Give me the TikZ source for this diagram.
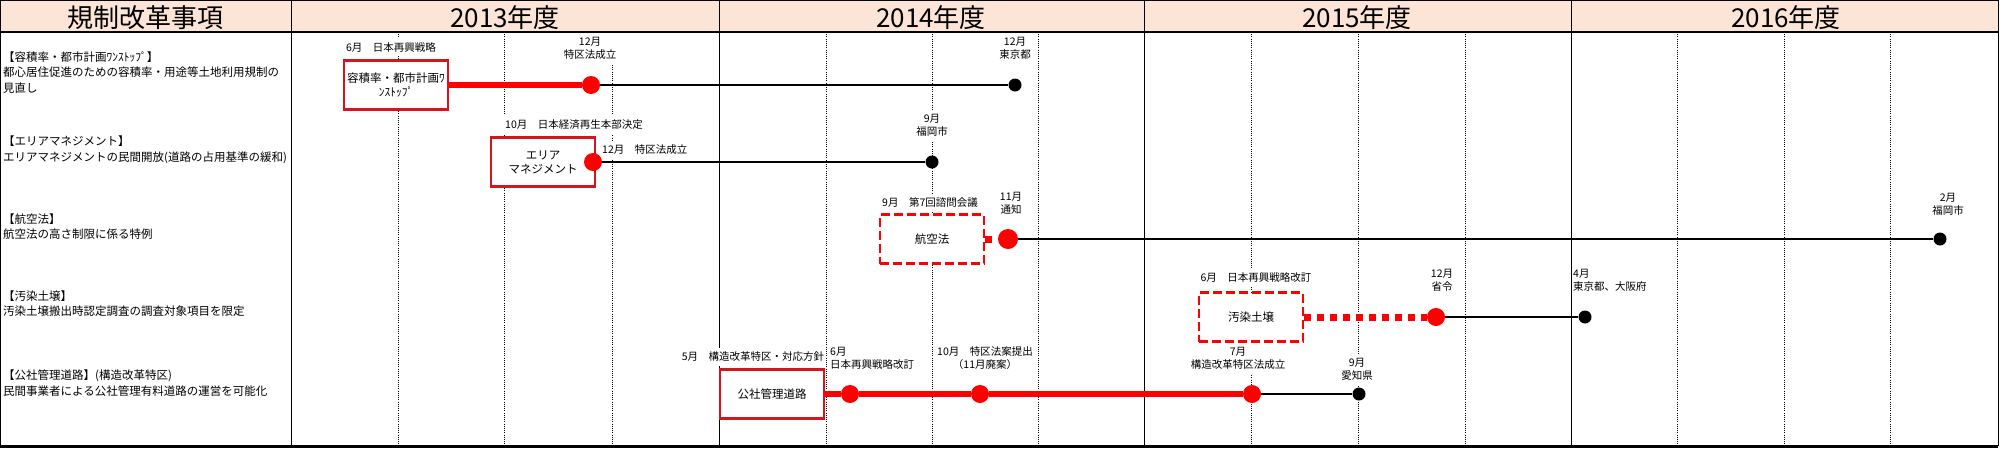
\documentclass[tikz,border=0pt]{standalone}
\usepackage{fontspec}
\setmainfont{Noto Sans CJK JP}
\definecolor{hdrfill}{RGB}{252,228,214}
\definecolor{boxred}{RGB}{214,20,28}
\definecolor{dotred}{RGB}{255,0,0}
\begin{document}
\begin{tikzpicture}[x=1pt,y=-1pt,
  hdr/.style={inner sep=0pt,font=\fontsize{26}{28}\selectfont},
  item/.style={anchor=west,align=left,inner sep=0pt,font=\fontsize{11.5}{15.5}\selectfont},
  lbl/.style={fill=white,inner xsep=1pt,inner ysep=4pt,align=center,font=\fontsize{10.5}{13}\selectfont},
  solidbox/.style={draw=boxred,line width=2.5pt,fill=white,minimum width=104,minimum height=49,inner sep=0pt,align=center,font=\fontsize{11.5}{14}\selectfont},
  dashbox/.style={solidbox,draw=dotred,dash pattern=on 9pt off 4pt},
  reddot/.style={circle,fill=dotred,inner sep=0pt,minimum size=18},
  blackdot/.style={circle,fill=black,inner sep=0pt,minimum size=13},
  redline/.style={dotred,line width=6.5pt},
  reddash/.style={dotred,line width=7pt,dash pattern=on 7pt off 6pt},
  blackline/.style={black,line width=2pt},
  gridq/.style={line width=0.8pt,dash pattern=on 1pt off 1.2pt},
  gridy/.style={line width=1pt}]
  \useasboundingbox (0,0) rectangle (2012,448);
  \fill[hdrfill] (0,0) rectangle (1998,32);
  \node[hdr] (hitem) at (145,18) {規制改革事項};
  \node[hdr] (h2013) at (505,18) {2013年度};
  \node[hdr] (h2014) at (931,18) {2014年度};
  \node[hdr] (h2015) at (1357,18) {2015年度};
  \node[hdr] (h2016) at (1786,18) {2016年度};
  \draw[gridq] (398,32)--(398,446) (504,32)--(504,446) (612,32)--(612,446)
    (826,32)--(826,446) (932,32)--(932,446) (1038,32)--(1038,446)
    (1251,32)--(1251,446) (1358,32)--(1358,446) (1465,32)--(1465,446)
    (1677,32)--(1677,446) (1784,32)--(1784,446) (1890,32)--(1890,446);
  \draw[gridy] (0.5,0)--(0.5,446) (291,0)--(291,446) (719,0)--(719,446) (1144,0)--(1144,446)
    (1571,0)--(1571,446) (1998,0)--(1998,446);
  \draw[line width=1pt] (0,0.5)--(1998,0.5);
  \draw[line width=2.5pt] (0,32)--(1998,32);
  \draw[line width=3pt] (0,446)--(1998,446);
  \node[item] (item1) at (3,72.5) {【容積率・都市計画ﾜﾝｽﾄｯﾌﾟ】\\都心居住促進のための容積率・用途等土地利用規制の\\見直し};
  \node[item] (item2) at (3,150) {【エリアマネジメント】\\エリアマネジメントの民間開放(道路の占用基準の緩和)};
  \node[item] (item3) at (3,226.5) {【航空法】\\航空法の高さ制限に係る特例};
  \node[item] (item4) at (3,303.5) {【汚染土壌】\\汚染土壌搬出時認定調査の調査対象項目を限定};
  \node[item] (item5) at (3,383) {【公社管理道路】(構造改革特区)\\民間事業者による公社管理有料道路の運営を可能化};
  \node[lbl] (m1a) at (391,47) {6月　日本再興戦略};
  \node[lbl] (m1b) at (590,48.5) {12月\\特区法成立};
  \node[lbl] (m1c) at (1015,48.5) {12月\\東京都};
  \node[solidbox] (box1) at (396,85) {容積率・都市計画ﾜ\\ﾝｽﾄｯﾌﾟ};
  \node[reddot] (d1a) at (591,85) {};
  \node[blackdot] (d1b) at (1015,85) {};
  \node[lbl,anchor=west] (m2a) at (504,125) {10月　日本経済再生本部決定};
  \node[lbl,anchor=west] (m2b) at (601,150) {12月　特区法成立};
  \node[lbl] (m2c) at (932,125.5) {9月\\福岡市};
  \node[solidbox] (box2) at (543,162) {エリア\\マネジメント};
  \node[reddot] (d2a) at (593,162) {};
  \node[blackdot] (d2b) at (932,162) {};
  \node[lbl] (m3a) at (930,203) {9月　第7回諮問会議};
  \node[lbl] (m3b) at (1011,203.5) {11月\\通知};
  \node[lbl] (m3c) at (1948,204) {2月\\福岡市};
  \node[dashbox] (box3) at (932,239) {航空法};
  \node[reddot,minimum size=20] (d3a) at (1008,239) {};
  \node[blackdot] (d3b) at (1940,239) {};
  \node[lbl] (m4a) at (1256,278) {6月　日本再興戦略改訂};
  \node[lbl] (m4b) at (1442,280.5) {12月\\省令};
  \node[lbl,anchor=west,align=left] (m4c) at (1572,280.5) {4月\\東京都、大阪府};
  \node[dashbox] (box4) at (1251,317) {汚染土壌};
  \node[reddot] (d4a) at (1436,317) {};
  \node[blackdot] (d4b) at (1585,317) {};
  \node[lbl] (m5a) at (753,357) {5月　構造改革特区・対応方針};
  \node[lbl,anchor=west,align=left] (m5b) at (829,358.5) {6月\\日本再興戦略改訂};
  \node[lbl] (m5c) at (985,358.5) {10月　特区法案提出\\（11月廃案）};
  \node[lbl] (m5d) at (1238,358.5) {7月\\構造改革特区法成立};
  \node[lbl] (m5e) at (1357,369.5) {9月\\愛知県};
  \node[solidbox] (box5) at (772,394) {公社管理道路};
  \node[reddot] (d5a) at (850,394) {};
  \node[reddot] (d5b) at (980,394) {};
  \node[reddot] (d5c) at (1252,394) {};
  \node[blackdot] (d5d) at (1359,394) {};
  \draw[redline] (box1.east) -- (d1a);
  \draw[blackline] (d1a) -- (d1b);
  \draw[blackline] (d2a) -- (d2b);
  \draw[reddash] (box3.east) -- (d3a);
  \draw[blackline] (d3a) -- (d3b);
  \draw[reddash] (box4.east) -- (d4a);
  \draw[blackline] (d4a) -- (d4b);
  \draw[redline] (box5.east) -- (d5a) -- (d5b) -- (d5c);
  \draw[blackline] (d5c) -- (d5d);
\end{tikzpicture}
\end{document}
